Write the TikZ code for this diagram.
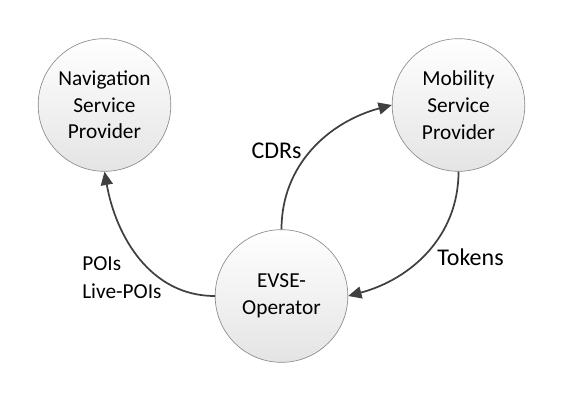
\documentclass[tikz,border=0pt]{standalone}
\usepackage{fontspec}
\setmainfont{Carlito}
\usetikzlibrary{arrows.meta}
\definecolor{RingGrey}{HTML}{8C8C8C}
\definecolor{FillGrey}{HTML}{E4E4E4}
\definecolor{FlowGrey}{HTML}{404040}

\begin{document}
\begin{tikzpicture}[x=0.75pt,y=0.75pt,
  every node/.style={font=\fontsize{16}{20}\selectfont},
  party/.style={circle,draw=RingGrey,line width=0.5pt,top color=white,bottom color=FillGrey,
    minimum size=99.5pt,inner sep=0pt,align=center},
  flowlabel/.style={inner sep=0pt,font=\fontsize{18}{21}\selectfont},
  flow/.style={draw=FlowGrey,line width=1.3pt,-{Triangle[length=10pt,width=9pt]}}]
  \useasboundingbox (0,0) rectangle (566,404);
  % roles
  \node[party] (nav) at (104.5,299) {Navigation\\Service\\Provider};
  \node[party] (msp) at (458.5,299) {Mobility\\Service\\Provider};
  \node[party] (evse) at (281.5,108) {EVSE-\\Operator};
  % data flows
  \draw[flow] (evse.west) to[out=180,in=-80] (nav.south);
  \draw[flow] (evse.north) to[out=90,in=195] (msp.west);
  \draw[flow] (msp.south) to[out=-90,in=15] (evse.east);
  % labels
  \node[flowlabel] (cdrs) at (276.5,253) {CDRs};
  \node[flowlabel] (tokens) at (470.5,147) {Tokens};
  \node[flowlabel,font=\fontsize{16}{21}\selectfont,anchor=west,align=left] (pois) at (82,126) {POIs\\Live-POIs};
\end{tikzpicture}
\end{document}
